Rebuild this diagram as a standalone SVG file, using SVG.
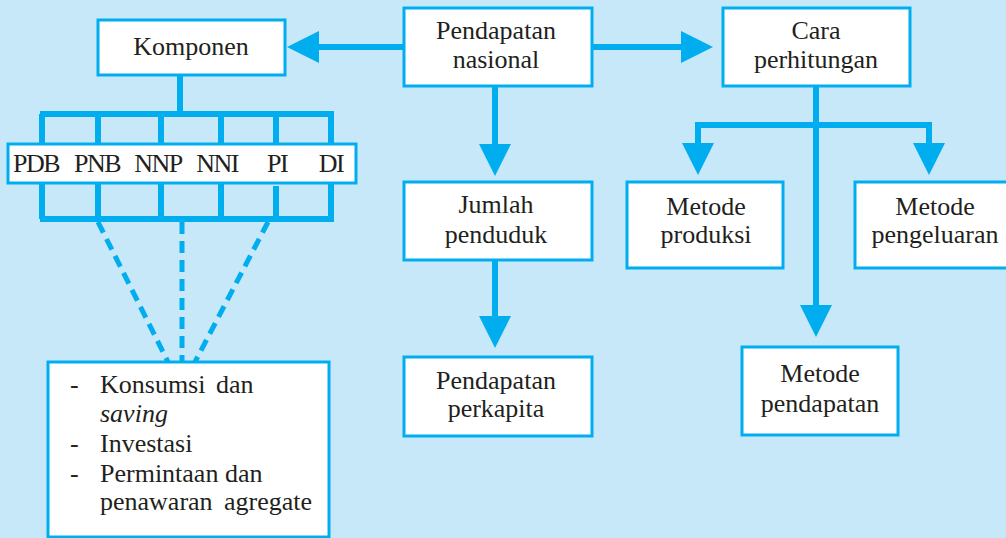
<svg xmlns="http://www.w3.org/2000/svg" width="1006" height="538" viewBox="0 0 1006 538">
<style>
.bx{fill:#fff;stroke:#00AEEF;stroke-width:3}
.ln{fill:none;stroke:#00AEEF;stroke-width:6}
.ds{fill:none;stroke:#00AEEF;stroke-width:5;stroke-dasharray:12 7}
.t{font-family:"Liberation Serif","Times New Roman",serif;font-size:26px;fill:#231F20}
.c{text-anchor:middle}
.ab{letter-spacing:-1.5px}
</style>
<defs>
<marker id="ah" markerUnits="userSpaceOnUse" markerWidth="34" markerHeight="34" viewBox="0 -17 34 34" refX="0" refY="0" orient="auto">
<path d="M0,-16 L32,0 L0,16 z" fill="#00AEEF"/>
</marker>
</defs>
<rect width="1006" height="538" fill="#C6E8F8"/>
<g id="connectors">
<path class="ln" d="M404,47 H319" marker-end="url(#ah)"/>
<path class="ln" d="M592,47 H681" marker-end="url(#ah)"/>
<path class="ln" d="M495,86 V144" marker-end="url(#ah)"/>
<path class="ln" d="M495,260 V316" marker-end="url(#ah)"/>
<path class="ln" d="M816,86 V305" marker-end="url(#ah)"/>
<path class="ln" d="M816,125 H698 V143" marker-end="url(#ah)"/>
<path class="ln" d="M816,125 H929 V143" marker-end="url(#ah)"/>
<path class="ln" d="M180,75 V114"/>
<path class="ln" d="M40,114 H334 M42,114 V145 M98,114 V145 M161,114 V145 M221,114 V145 M276,114 V145 M331,114 V145"/>
<path class="ln" d="M40,219 H334 M42,182 V219 M98,182 V219 M161,182 V219 M221,182 V219 M276,186 V219 M331,182 V219"/>
<path class="ds" d="M98,222 L168,362"/>
<path class="ds" d="M182,222 V362"/>
<path class="ds" d="M268,222 L195,362"/>
</g>
<g id="komponen">
<rect class="bx" x="98" y="20" width="187" height="55"/>
<text class="t c" x="191" y="55">Komponen</text>
</g>
<g id="indikator">
<rect class="bx" x="8" y="144" width="348" height="39"/>
<text class="t c ab" x="36" y="172">PDB</text>
<text class="t c ab" x="97" y="172">PNB</text>
<text class="t c ab" x="158" y="172">NNP</text>
<text class="t c ab" x="217" y="172">NNI</text>
<text class="t c ab" x="277" y="172">PI</text>
<text class="t c ab" x="331" y="172">DI</text>
</g>
<g id="rincian">
<rect class="bx" x="48" y="362" width="281" height="175"/>
<text class="t" x="70" y="393">-</text>
<text class="t" x="100" y="393">Konsumsi<tspan x="216">dan</tspan></text>
<text class="t" x="100" y="422" font-style="italic">saving</text>
<text class="t" x="70" y="452">-</text>
<text class="t" x="100" y="452">Investasi</text>
<text class="t" x="70" y="482">-</text>
<text class="t" x="100" y="482">Permintaan dan</text>
<text class="t" x="100" y="510">penawaran<tspan x="224">agregate</tspan></text>
</g>
<g id="pendapatan-nasional">
<rect class="bx" x="404" y="8" width="188" height="78"/>
<text class="t c" x="496" y="39">Pendapatan</text>
<text class="t c" x="496" y="68">nasional</text>
</g>
<g id="cara-perhitungan">
<rect class="bx" x="723" y="8" width="187" height="78"/>
<text class="t c" x="816" y="39">Cara</text>
<text class="t c" x="816" y="68">perhitungan</text>
</g>
<g id="jumlah-penduduk">
<rect class="bx" x="404" y="182" width="188" height="78"/>
<text class="t c" x="496" y="213">Jumlah</text>
<text class="t c" x="496" y="243">penduduk</text>
</g>
<g id="pendapatan-perkapita">
<rect class="bx" x="404" y="357" width="188" height="79"/>
<text class="t c" x="496" y="389">Pendapatan</text>
<text class="t c" x="496" y="417">perkapita</text>
</g>
<g id="metode-produksi">
<rect class="bx" x="627" y="182" width="156" height="86"/>
<text class="t c" x="706" y="215">Metode</text>
<text class="t c" x="706" y="243">produksi</text>
</g>
<g id="metode-pengeluaran">
<rect class="bx" x="855" y="182" width="160" height="86"/>
<text class="t c" x="935" y="215">Metode</text>
<text class="t c" x="935" y="243">pengeluaran</text>
</g>
<g id="metode-pendapatan">
<rect class="bx" x="742" y="347" width="156" height="88"/>
<text class="t c" x="820" y="382">Metode</text>
<text class="t c" x="820" y="412">pendapatan</text>
</g>
</svg>
